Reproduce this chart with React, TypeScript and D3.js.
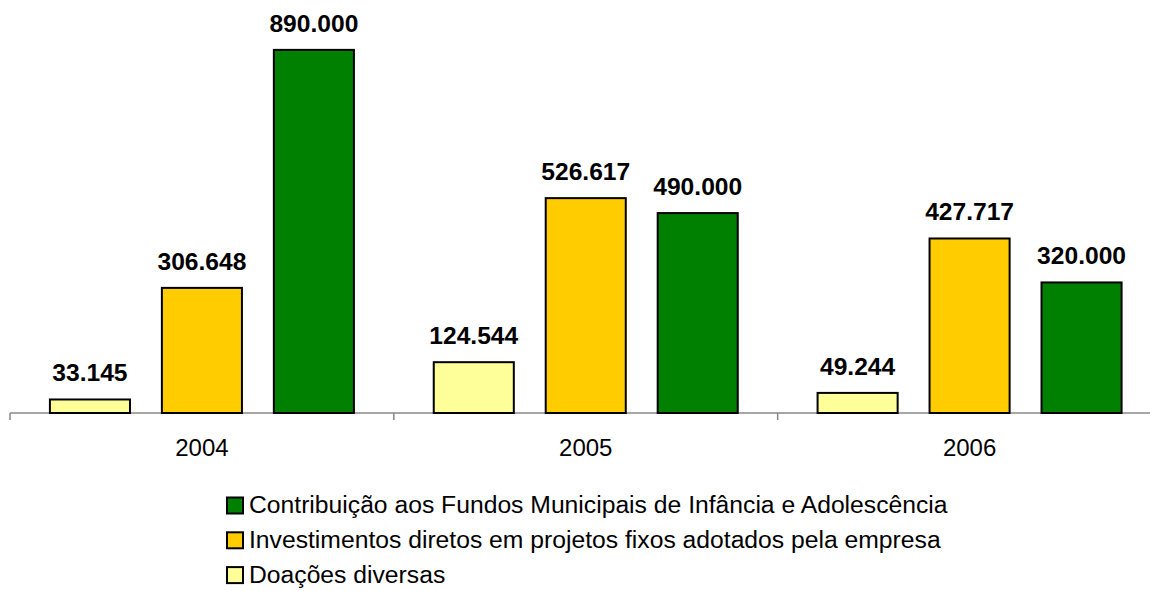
import React from "react";
import * as d3 from "d3";

const categories = ["2004", "2005", "2006"];
const seriesNames = [
  "Doações diversas",
  "Investimentos diretos em projetos fixos adotados pela empresa",
  "Contribuição aos Fundos Municipais de Infância e Adolescência",
];
const doacoes = [33145, 124544, 49244];
const investimentos = [306648, 526617, 427717];
const contribuicao = [890000, 490000, 320000];
const seriesColors = ["#FFFF99", "#FFCC00", "#008000"];
const legendOrder = [2, 1, 0];

const fmt = (v: number) => d3.format(",")(v).replace(/,/g, ".");

export default function App() {
  const W = 1150;
  const H = 591;
  const font = "'Liberation Sans', Arial, Helvetica, sans-serif";
  const values = [doacoes, investimentos, contribuicao];

  const x0 = d3.scaleBand().domain(categories).range([10, 1161.5]).paddingInner(0).paddingOuter(0);
  const groupW = 304;
  const x1 = d3
    .scaleBand()
    .domain(seriesNames)
    .range([0, groupW])
    .paddingInner(0.285)
    .paddingOuter(0);
  const y = d3.scaleLinear().domain([0, 1000000]).range([413, 5]);

  const ticks = [0, 1, 2, 3].map((i) => 10 + i * x0.step());

  return (
    <svg
      width={W}
      height={H}
      style={{ position: "absolute", left: 0, top: 0, background: "#fff" }}
      fontFamily={font}
    >
      {/* axis */}
      <line x1={10} x2={1161.5} y1={413} y2={413} stroke="#888" strokeWidth={1.5} />
      {ticks.map((t, i) => (
        <line key={i} x1={t} x2={t} y1={413} y2={420} stroke="#888" strokeWidth={1.5} />
      ))}
      {categories.map((c) => (
        <text
          key={c}
          x={(x0(c) as number) + x0.bandwidth() / 2}
          y={456}
          textAnchor="middle"
          fontSize={24}
          fill="#000"
        >
          {c}
        </text>
      ))}
      {categories.map((c, ci) => {
        const gx = (x0(c) as number) + x0.bandwidth() / 2 - groupW / 2;
        return (
          <g key={c}>
            {seriesNames.map((s, si) => {
              const v = values[si][ci];
              const bx = gx + (x1(s) as number);
              const bw = x1.bandwidth();
              return (
                <g key={s}>
                  <rect
                    x={bx}
                    y={y(v)}
                    width={bw}
                    height={y(0) - y(v)}
                    fill={seriesColors[si]}
                    stroke="#000"
                    strokeWidth={2}
                  />
                  <text
                    x={bx + bw / 2}
                    y={y(v) - 18}
                    textAnchor="middle"
                    fontSize={24.6}
                    fontWeight="bold"
                    fill="#000"
                  >
                    {fmt(v)}
                  </text>
                </g>
              );
            })}
          </g>
        );
      })}
      {/* legend */}
      {legendOrder.map((si, i) => {
        const by = 513 + i * 34.8;
        return (
          <g key={si}>
            <rect x={227} y={by - 15.5} width={16} height={16} fill={seriesColors[si]} stroke="#000" strokeWidth={2} />
            <text x={249} y={by} fontSize={24.7} fill="#000">
              {seriesNames[si]}
            </text>
          </g>
        );
      })}
    </svg>
  );
}
